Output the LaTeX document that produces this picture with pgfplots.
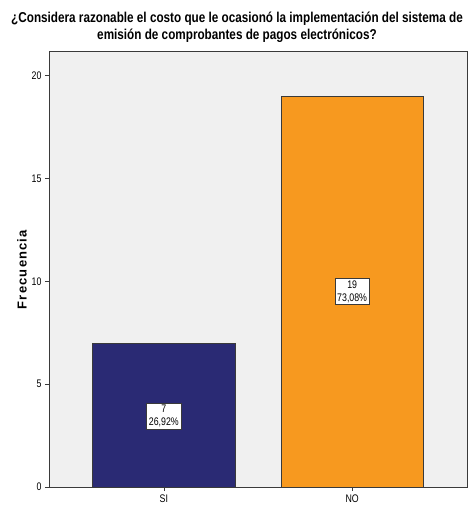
\documentclass[border=0pt]{standalone}
\usepackage{pgfplots}
\pgfplotsset{compat=1.18}
\usepackage{fontspec}
\setmainfont{Liberation Sans}
\newfontfamily\narrowfont[FakeStretch=0.8]{Liberation Sans}
\newfontfamily\titlefont[FakeStretch=0.82]{Liberation Sans Bold}
\definecolor{bgc}{HTML}{F0F0F0}
\definecolor{navy}{HTML}{2A2A74}
\definecolor{orng}{HTML}{F7991F}
\definecolor{edge}{HTML}{3A3A3A}
\begin{document}
\begin{tikzpicture}
\begin{axis}[
  at={(0,0)}, anchor=south west,
  scale only axis,
  width=418pt, height=436pt,
  xmin=-0.61, xmax=1.61,
  ymin=0, ymax=21.2,
  axis background/.style={fill=bgc},
  axis line style={edge, line width=0.8pt},
  xtick={0,1}, xticklabels={SI,NO},
  ytick={0,5,10,15,20},
  tick style={edge, line width=0.6pt},
  tick align=outside,
  major tick length=4pt,
  xtick pos=bottom, ytick pos=left,
  tick label style={font=\narrowfont\fontsize{11}{11}\selectfont},
  /pgf/number format/assume math mode=true,
  ylabel={\textbf{\addfontfeature{LetterSpace=9}Frecuencia}},
  ylabel style={font=\fontsize{13}{13}\selectfont, at={(axis description cs:-0.0646,0.5)}, anchor=center},
  title={¿Considera razonable el costo que le ocasionó la implementación del sistema de\\emisión de comprobantes de pagos electrónicos?},
  title style={font=\titlefont\fontsize{14.3}{17}\selectfont, align=center, at={(axis description cs:0.5,1)}, anchor=south, yshift=-1pt, xshift=-21pt},
  ybar, bar width=0.755, bar shift=0pt,
  clip=false,
]
\addplot[fill=navy, draw=edge, line width=0.8pt] coordinates {(0,7)};
\addplot[fill=orng, draw=edge, line width=0.8pt] coordinates {(1,19)};
\node[fill=white, draw=edge, line width=0.6pt, align=center, inner sep=2.2pt,
  font=\narrowfont\fontsize{11}{12.5}\selectfont] at (axis cs:0,3.45) {7\\26,92\%};
\node[fill=white, draw=edge, line width=0.6pt, align=center, inner sep=2.2pt,
  font=\narrowfont\fontsize{11}{12.5}\selectfont] at (axis cs:1,9.5) {19\\73,08\%};
\end{axis}
\pgfresetboundingbox
\useasboundingbox (-49pt,-21pt) rectangle (421pt,487pt);
\end{tikzpicture}
\end{document}
